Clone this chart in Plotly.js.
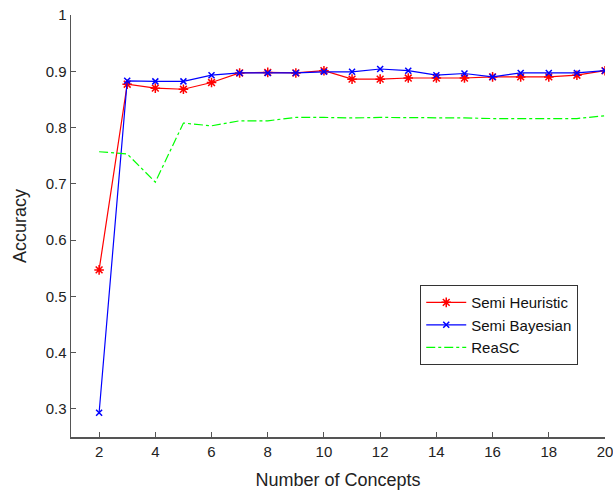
<!DOCTYPE html>
<html>
<head>
<meta charset="utf-8">
<script src="https://cdn.plot.ly/plotly-3.0.1.min.js"></script>
<style>html,body{margin:0;padding:0;background:#fff;}#chart{width:613px;height:494px;}</style>
</head>
<body>
<div id="chart"></div>
<script>
var concepts = [2,3,4,5,6,7,8,9,10,11,12,13,14,15,16,17,18,19,20];
var semiHeuristic = [0.547,0.877,0.870,0.868,0.880,0.897,0.898,0.897,0.901,0.886,0.886,0.888,0.888,0.888,0.890,0.890,0.890,0.893,0.901];
var semiBayesian = [0.293,0.883,0.882,0.882,0.893,0.897,0.897,0.897,0.899,0.899,0.904,0.901,0.893,0.896,0.890,0.897,0.897,0.897,0.901];
var reaSC = [0.757,0.753,0.703,0.808,0.803,0.812,0.812,0.818,0.818,0.817,0.818,0.818,0.818,0.817,0.816,0.816,0.816,0.816,0.821];
var xTicks = [2,4,6,8,10,12,14,16,18,20];
var yTicks = [0.3,0.4,0.5,0.6,0.7,0.8,0.9,1];
var yTickText = ['0.3','0.4','0.5','0.6','0.7','0.8','0.9','1'];

var traces = [
  {x: concepts, y: semiHeuristic, name: 'Semi Heuristic', mode: 'lines+markers', type: 'scatter',
   line: {color: '#ff0000', width: 1.2}, marker: {symbol: 'asterisk-open', size: 8, color: '#ff0000', line: {color: '#ff0000', width: 1.5}}},
  {x: concepts, y: semiBayesian, name: 'Semi Bayesian', mode: 'lines+markers', type: 'scatter',
   line: {color: '#0000ff', width: 1.2}, marker: {symbol: 'x-thin-open', size: 6, color: '#0000ff', line: {color: '#0000ff', width: 1.5}}},
  {x: concepts, y: reaSC, name: 'ReaSC', mode: 'lines', type: 'scatter',
   line: {color: '#00ff00', width: 1.2, dash: 'dashdot'}}
];

var fam = 'Liberation Sans, Arial, sans-serif';
var axisFont = {family: fam, size: 15, color: '#222'};
var layout = {
  width: 613, height: 494,
  margin: {l: 71, r: 8, t: 15, b: 57},
  paper_bgcolor: '#fff', plot_bgcolor: '#fff',
  font: axisFont,
  showlegend: true,
  legend: {x: 0.654, y: 0.36, xanchor: 'left', yanchor: 'top', bgcolor: '#fff',
           bordercolor: '#333', borderwidth: 1, font: {family: fam, size: 15, color: '#111'},
           tracegroupgap: 0, itemwidth: 40},
  xaxis: {range: [1, 20], tickvals: xTicks, ticks: 'inside', ticklen: 5, tickcolor: '#555',
          showline: true, linecolor: '#555', linewidth: 1.5, showgrid: false, zeroline: false,
          tickfont: axisFont, ticklabeloverflow: 'allow',
          title: {text: 'Number of Concepts', font: {family: fam, size: 18, color: '#222'}, standoff: 15}},
  yaxis: {range: [0.25, 1], tickvals: yTicks, ticktext: yTickText, ticks: 'inside', ticklen: 5, tickcolor: '#555',
          showline: true, linecolor: '#555', linewidth: 1.5, showgrid: false, zeroline: false,
          tickfont: axisFont,
          title: {text: 'Accuracy', font: {family: fam, size: 18, color: '#222'}, standoff: 14}}
};
Plotly.newPlot('chart', traces, layout, {displayModeBar: false, staticPlot: true});
</script>
</body>
</html>
